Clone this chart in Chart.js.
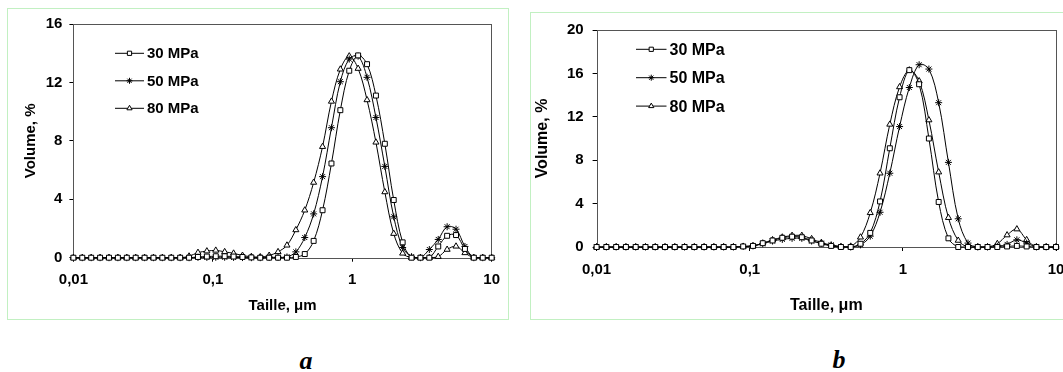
<!DOCTYPE html>
<html>
<head>
<meta charset="utf-8">
<script src="https://cdn.jsdelivr.net/npm/chart.js@4.4.1/dist/chart.umd.min.js"></script>
<style>
  html, body { margin: 0; padding: 0; background: #fff; }
  #page { position: relative; width: 1063px; height: 372px; overflow: hidden; }
  .box { position: absolute; border: 1px solid #c2f0c2; box-sizing: border-box; }
  canvas { position: absolute; }
  .tag { position: absolute; font: italic bold 26px "Liberation Serif", "Times New Roman", serif; transform: translate(-50%, -50%); }
</style>
</head>
<body>
<div id="page">
  <div class="box" style="left:7px;top:8px;width:502px;height:312px;"></div>
  <div class="box" style="left:530px;top:12px;width:545px;height:308px;"></div>
  <canvas id="chartA" width="502" height="311" style="left:7px;top:8px;"></canvas>
  <canvas id="chartB" width="545" height="307" style="left:530px;top:12px;"></canvas>
  <div class="tag" style="left:306px;top:361px;">a</div>
  <div class="tag" style="left:839px;top:360px;">b</div>
</div>
<script>
// particle size classes, µm
var sizes = [0.01, 0.01158, 0.01342, 0.01554, 0.018, 0.02085, 0.02415, 0.02797, 0.0324, 0.03753,
  0.04347, 0.05035, 0.05832, 0.06755, 0.07825, 0.09063, 0.105, 0.1216, 0.1409, 0.1632,
  0.189, 0.2189, 0.2536, 0.2937, 0.3402, 0.3941, 0.4565, 0.5287, 0.6124, 0.7094,
  0.8217, 0.9518, 1.102, 1.277, 1.479, 1.713, 1.984, 2.299, 2.663, 3.084,
  3.572, 4.138, 4.793, 5.552, 6.431, 7.449, 8.628, 10];

var seriesNames = ['30 MPa', '50 MPa', '80 MPa'];
var xTicks = [0.01, 0.1, 1, 10];
var xTickLabels = ['0,01', '0,1', '1', '10'];

// figure a
var a30 = [0,0,0,0,0,0,0,0,0,0,0,0,0,0,
  0.05,0.08,0.1,0.1,0.08,0.05,0.02,0,0,0,
  0,0.05,0.25,1.15,3.25,6.45,10.1,12.8,13.85,13.25,
  11.1,7.8,3.95,1.05,0,0,0,0.77,1.5,1.55,
  0.6,0,0,0];
var a50 = [0,0,0,0,0,0,0,0,0,0,0,0,0,0,
  0.02,0.02,0.03,0.03,0.02,0.01,0,0,0.02,0.03,
  0.05,0.4,1.38,3.0,5.55,8.9,12.05,13.6,13.8,12.35,
  9.6,6.25,2.8,0.7,0.07,0,0.56,1.25,2.12,1.95,
  0.77,0,0,0];
var a80 = [0,0,0,0,0,0,0,0,0,0,0,0,0,
  0.1,0.35,0.45,0.5,0.4,0.3,0.15,0.07,0.05,0.15,0.4,
  0.85,1.9,3.25,5.15,7.6,10.7,12.9,13.8,12.95,10.8,
  7.9,4.5,1.65,0.3,0,0,0,0.07,0.56,0.78,
  0.33,0,0,0];
var aYTicks = [0, 4, 8, 12, 16];

// figure b
var b30 = [0,0,0,0,0,0,0,0,0,0,0,0,0,0,0,
  0.05,0.1,0.35,0.6,0.85,0.95,0.9,0.6,0.3,0.1,
  0,0,0.3,1.3,4.2,9.1,13.8,16.3,15.0,10.0,
  4.15,0.8,0,0,0,0,0,0.05,0.1,0.05,
  0,0,0];
var b50 = [0,0,0,0,0,0,0,0,0,0,0,0,0,0,0,
  0.05,0.1,0.3,0.55,0.7,0.8,0.8,0.55,0.35,0.2,
  0.05,0,0.2,1.0,3.2,6.8,11.1,14.7,16.8,16.4,
  13.3,7.8,2.6,0.36,0,0,0.06,0.24,0.66,0.36,
  0,0,0];
var b80 = [0,0,0,0,0,0,0,0,0,0,0,0,0,0,0,
  0.05,0.1,0.35,0.65,0.9,1.05,1.05,0.75,0.4,0.12,
  0,0.06,0.9,3.15,6.8,11.3,14.75,16.3,15.3,11.7,
  6.9,2.7,0.6,0,0,0,0.3,1.1,1.65,0.66,
  0,0,0];
var bYTicks = [0, 4, 8, 12, 16, 20];

var FONT = '"Liberation Sans", Arial, sans-serif';
var markers = ['rect', 'star', 'triangle'];

function points(ys) {
  return sizes.map(function(x, i) { return {x: x, y: ys[i]}; });
}

// box around the plot area
var framePlugin = {
  id: 'frame',
  beforeDatasetsDraw: function(chart) {
    var c = chart.ctx, a = chart.chartArea;
    c.save();
    c.strokeStyle = '#555';
    c.lineWidth = 1;
    c.strokeRect(Math.round(a.left) + 0.5, Math.round(a.top) + 0.5,
      Math.round(a.right - a.left), Math.round(a.bottom - a.top));
    c.restore();
  }
};

// legend drawn inside the plot, like the excel one
var keyPlugin = {
  id: 'key',
  afterDraw: function(chart, args, o) {
    var c = chart.ctx;
    c.save();
    c.font = 'bold ' + o.size + 'px ' + FONT;
    c.textBaseline = 'middle';
    chart.data.datasets.forEach(function(ds, k) {
      var y = o.top + k * o.gap;
      c.strokeStyle = '#000';
      c.fillStyle = '#fff';
      c.lineWidth = 1;
      c.beginPath();
      c.moveTo(o.x1, y);
      c.lineTo(o.x2, y);
      c.stroke();
      Chart.helpers.drawPoint(c, {pointStyle: ds.pointStyle, radius: 3, borderWidth: 1, rotation: 0},
        (o.x1 + o.x2) / 2, y);
      c.fillStyle = '#000';
      c.fillText(ds.label, o.x2 + 3, y + 1);
    });
    c.restore();
  }
};

function makeChart(id, series, yTicks, lay) {
  var datasets = series.map(function(ys, k) {
    return {
      label: seriesNames[k],
      data: points(ys),
      borderColor: '#000',
      borderWidth: 1,
      backgroundColor: '#fff',
      pointStyle: markers[k],
      pointRadius: 3.5,
      pointBorderWidth: 1,
      pointBackgroundColor: '#fff',
      pointBorderColor: '#000',
      tension: 0.35,
      clip: false
    };
  });
  return new Chart(document.getElementById(id), {
    type: 'line',
    data: {datasets: datasets},
    plugins: [framePlugin, keyPlugin],
    options: {
      responsive: false,
      animation: false,
      events: [],
      layout: {padding: {top: lay.padTop, right: lay.padRight, left: 0, bottom: 0}},
      plugins: {
        legend: {display: false},
        tooltip: {enabled: false},
        key: lay.key
      },
      scales: {
        x: {
          type: 'logarithmic',
          min: 0.01,
          max: 10,
          afterBuildTicks: function(s) { s.ticks = xTicks.map(function(v) { return {value: v}; }); },
          afterFit: function(s) { s.height = lay.xHeight; },
          border: {display: false},
          grid: {display: true, drawOnChartArea: false, drawTicks: true, tickLength: 4, tickColor: '#000'},
          ticks: {
            color: '#000', padding: lay.xPad, maxRotation: 0, autoSkip: false,
            font: {family: FONT, size: 15, weight: 'bold'},
            callback: function(v, i) { return xTickLabels[i]; }
          },
          title: {
            display: true, text: 'Taille, μm', color: '#000',
            font: {family: FONT, size: lay.titleSize, weight: 'bold'},
            padding: {top: 0, bottom: lay.xTitlePad}
          }
        },
        y: {
          min: 0,
          max: yTicks[yTicks.length - 1],
          afterBuildTicks: function(s) { s.ticks = yTicks.map(function(v) { return {value: v}; }); },
          afterFit: function(s) { s.width = lay.yWidth; },
          border: {display: false},
          grid: {display: true, drawOnChartArea: false, drawTicks: true, tickLength: 4, tickColor: '#000'},
          ticks: {color: '#000', padding: lay.yPad, font: {family: FONT, size: 15, weight: 'bold'}},
          title: {
            display: true, text: 'Volume, %', color: '#000',
            font: {family: FONT, size: lay.titleSize, weight: 'bold'},
            padding: {top: lay.yTitlePad, bottom: 0}
          }
        }
      }
    }
  });
}

makeChart('chartA', [a30, a50, a80], aYTicks, {
  padTop: 13.7, padRight: 14.4, xHeight: 61.3, yWidth: 66.4,
  xPad: 9, yPad: 7, xTitlePad: 4.4, yTitlePad: 14.4, titleSize: 15,
  key: {x1: 108, x2: 137, top: 45.3, gap: 27.5, size: 15}
});

makeChart('chartB', [b30, b50, b80], bYTicks, {
  padTop: 13, padRight: 19, xHeight: 72, yWidth: 66.6,
  xPad: 10, yPad: 9, xTitlePad: 3.8, yTitlePad: 3.4, titleSize: 16,
  key: {x1: 106, x2: 136.5, top: 37.3, gap: 28.4, size: 16}
});
</script>
</body>
</html>
